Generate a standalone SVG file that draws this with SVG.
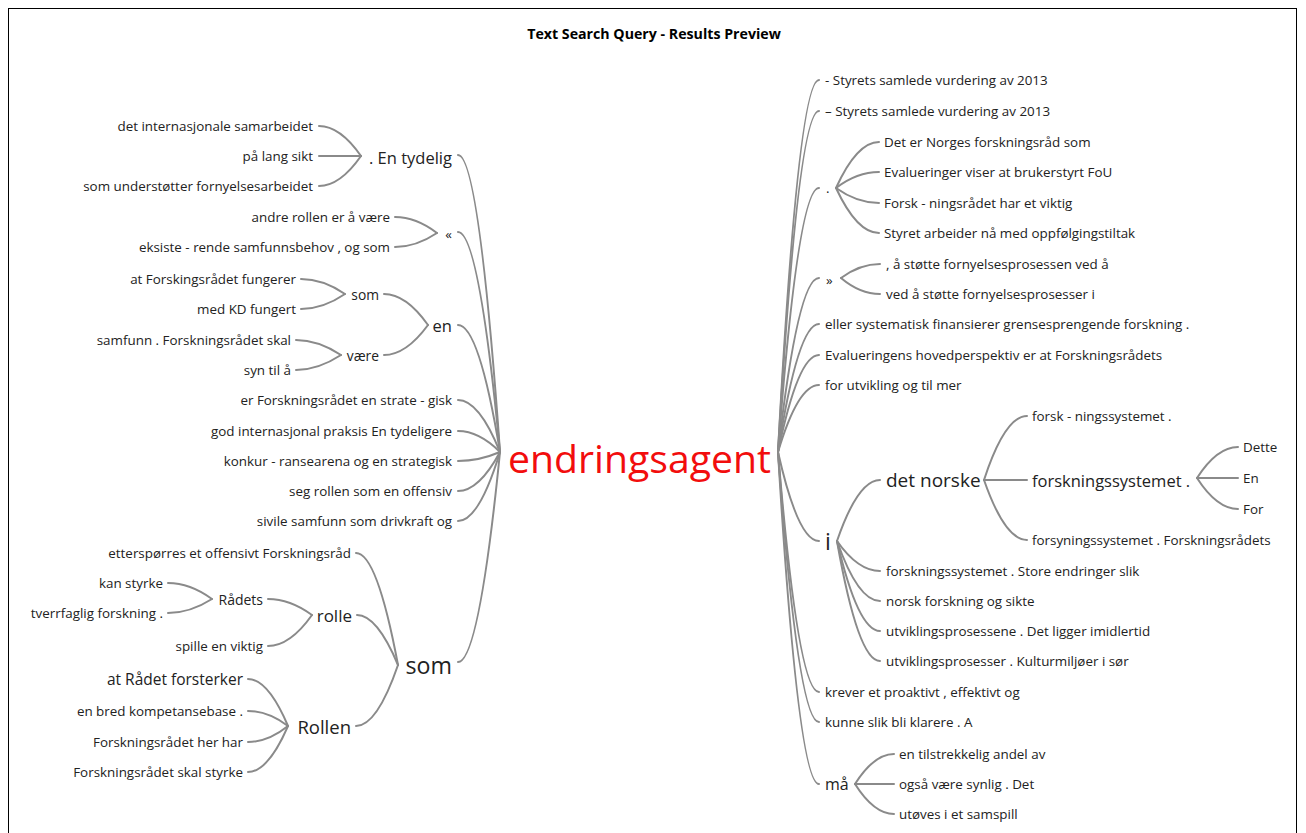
<svg xmlns="http://www.w3.org/2000/svg" width="1306" height="833" viewBox="0 0 1306 833">
<style>
text{font-family:"Open Sans","Noto Sans","DejaVu Sans",sans-serif;fill:#222;dominant-baseline:central}
.s{font-size:13.4px}
.m{font-size:16.5px}
.l{font-size:23.2px}
.e{text-anchor:end}
.t{font-size:14.2px;font-weight:bold;text-anchor:middle;fill:#000}
.c{font-size:39.2px;fill:#f20d0d}
#connectors path{fill:none;stroke:#8a8a8a;stroke-width:2;stroke-linecap:round}
</style>
<rect x="8.5" y="8.5" width="1288" height="840" fill="#fff" stroke="#000" stroke-width="1"/>
<text class="t" x="654" y="33">Text Search Query - Results Preview</text>
<g id="connectors">
<path d="M458,155 Q479,155 500,452"/>
<path d="M458,232 Q479,232 500,452"/>
<path d="M458,325 Q479,325 500,452"/>
<path d="M458,400 Q479,400 500,452"/>
<path d="M458,431 Q479,431 500,452"/>
<path d="M458,461 Q479,461 500,452"/>
<path d="M458,491 Q479,491 500,452"/>
<path d="M458,521 Q479,521 500,452"/>
<path d="M458,662 Q479,662 500,452"/>
<path d="M319,126 Q340,126 361,156"/>
<path d="M319,156 L361,156"/>
<path d="M319,186 Q340,186 361,156"/>
<path d="M395,217 Q416,217 437,233"/>
<path d="M395,247 Q416,247 437,233"/>
<path d="M384,294 Q406,294 428,325"/>
<path d="M384,355 Q406,355 428,325"/>
<path d="M301,279 Q323,279 345,294"/>
<path d="M301,309 Q323,309 345,294"/>
<path d="M296,340 Q318,340 341,355"/>
<path d="M296,370 Q318,370 341,355"/>
<path d="M356,553 Q377,553 398,665"/>
<path d="M357,615 Q377,615 398,665"/>
<path d="M356,726 Q377,726 398,665"/>
<path d="M268,599 Q290,599 312,615"/>
<path d="M268,646 Q290,646 312,615"/>
<path d="M168,583 Q190,583 212,599"/>
<path d="M168,613 Q190,613 212,599"/>
<path d="M248,679 Q268,679 288,726"/>
<path d="M248,711 Q268,711 288,726"/>
<path d="M248,742 Q268,742 288,726"/>
<path d="M248,772 Q268,772 288,726"/>
<path d="M819,80 Q798,80 778,452"/>
<path d="M819,111 Q798,111 778,452"/>
<path d="M819,188 Q798,188 778,452"/>
<path d="M819,278 Q798,278 778,452"/>
<path d="M819,324 Q798,324 778,452"/>
<path d="M819,355 Q798,355 778,452"/>
<path d="M819,385 Q798,385 778,452"/>
<path d="M819,541 Q798,541 778,452"/>
<path d="M819,692 Q798,692 778,452"/>
<path d="M819,722 Q798,722 778,452"/>
<path d="M819,784 Q798,784 778,452"/>
<path d="M879,142 Q857,142 836,188"/>
<path d="M879,172 Q857,172 836,188"/>
<path d="M879,203 Q857,203 836,188"/>
<path d="M879,233 Q857,233 836,188"/>
<path d="M880,264 Q860,264 841,278"/>
<path d="M880,294 Q860,294 841,278"/>
<path d="M880,480 Q858,480 837,541"/>
<path d="M880,571 Q858,571 837,541"/>
<path d="M880,601 Q858,601 837,541"/>
<path d="M880,631 Q858,631 837,541"/>
<path d="M880,661 Q858,661 837,541"/>
<path d="M1027,416 Q1005,416 984,480"/>
<path d="M1027,480 L984,480"/>
<path d="M1027,540 Q1005,540 984,480"/>
<path d="M1238,447 Q1217,447 1197,478"/>
<path d="M1238,478 L1197,478"/>
<path d="M1238,509 Q1217,509 1197,478"/>
<path d="M894,754 Q874,754 855,784"/>
<path d="M894,784 L855,784"/>
<path d="M894,814 Q874,814 855,784"/>
</g>
<g id="n-center"><text class="c" x="508" y="457">endringsagent</text></g>
<g id="n-en-tydelig"><text class="m e" x="452" y="157">. En tydelig</text></g>
<g id="n-l1"><text class="s e" x="313" y="126">det internasjonale samarbeidet</text></g>
<g id="n-l2"><text class="s e" x="313" y="156">på lang sikt</text></g>
<g id="n-l3"><text class="s e" x="313" y="186">som understøtter fornyelsesarbeidet</text></g>
<g id="n-guil"><text class="s e" x="452" y="234">«</text></g>
<g id="n-l4"><text class="s e" x="390" y="217">andre rollen er å være</text></g>
<g id="n-l5"><text class="s e" x="390" y="247">eksiste - rende samfunnsbehov , og som</text></g>
<g id="n-en"><text class="m e" x="452" y="325">en</text></g>
<g id="n-som-s"><text class="s e" x="379" y="294" style="font-size:13.8px">som</text></g>
<g id="n-l6"><text class="s e" x="296" y="279">at Forskingsrådet fungerer</text></g>
<g id="n-l7"><text class="s e" x="296" y="309">med KD fungert</text></g>
<g id="n-vaere"><text class="s e" x="379" y="355" style="font-size:13.8px">være</text></g>
<g id="n-l8"><text class="s e" x="291" y="340">samfunn . Forskningsrådet skal</text></g>
<g id="n-l9"><text class="s e" x="291" y="370">syn til å</text></g>
<g id="n-l10"><text class="s e" x="452" y="400">er Forskningsrådet en strate - gisk</text></g>
<g id="n-l11"><text class="s e" x="452" y="431">god internasjonal praksis En tydeligere</text></g>
<g id="n-l12"><text class="s e" x="452" y="461">konkur - ransearena og en strategisk</text></g>
<g id="n-l13"><text class="s e" x="452" y="491">seg rollen som en offensiv</text></g>
<g id="n-l14"><text class="s e" x="452" y="521">sivile samfunn som drivkraft og</text></g>
<g id="n-som"><text class="l e" x="452" y="665">som</text></g>
<g id="n-l15"><text class="s e" x="351" y="553">etterspørres et offensivt Forskningsråd</text></g>
<g id="n-rolle"><text class="m e" x="352" y="615" style="font-size:17px">rolle</text></g>
<g id="n-radets"><text class="s e" x="263" y="599" style="font-size:14px">Rådets</text></g>
<g id="n-l16"><text class="s e" x="163" y="583">kan styrke</text></g>
<g id="n-l17"><text class="s e" x="163" y="613">tverrfaglig forskning .</text></g>
<g id="n-l18"><text class="s e" x="263" y="646">spille en viktig</text></g>
<g id="n-rollen"><text class="m e" x="351" y="726" style="font-size:18.5px">Rollen</text></g>
<g id="n-l19"><text class="s e" x="243" y="679" style="font-size:15.5px">at Rådet forsterker</text></g>
<g id="n-l20"><text class="s e" x="243" y="711">en bred kompetansebase .</text></g>
<g id="n-l21"><text class="s e" x="243" y="742">Forskningsrådet her har</text></g>
<g id="n-l22"><text class="s e" x="243" y="772">Forskningsrådet skal styrke</text></g>
<g id="n-r1"><text class="s" x="825" y="80">- Styrets samlede vurdering av 2013</text></g>
<g id="n-r2"><text class="s" x="825" y="111">– Styrets samlede vurdering av 2013</text></g>
<g id="n-dot"><text class="s" x="826" y="188">.</text></g>
<g id="n-r3"><text class="s" x="884" y="142">Det er Norges forskningsråd som</text></g>
<g id="n-r4"><text class="s" x="884" y="172">Evalueringer viser at brukerstyrt FoU</text></g>
<g id="n-r5"><text class="s" x="884" y="203">Forsk - ningsrådet har et viktig</text></g>
<g id="n-r6"><text class="s" x="884" y="233">Styret arbeider nå med oppfølgingstiltak</text></g>
<g id="n-raquo"><text class="s" x="826" y="280">»</text></g>
<g id="n-r7"><text class="s" x="886" y="264">, å støtte fornyelsesprosessen ved å</text></g>
<g id="n-r8"><text class="s" x="886" y="294">ved å støtte fornyelsesprosesser i</text></g>
<g id="n-r9"><text class="s" x="825" y="324">eller systematisk finansierer grensesprengende forskning .</text></g>
<g id="n-r10"><text class="s" x="825" y="355">Evalueringens hovedperspektiv er at Forskningsrådets</text></g>
<g id="n-r11"><text class="s" x="825" y="385">for utvikling og til mer</text></g>
<g id="n-i"><text class="l" x="825" y="541">i</text></g>
<g id="n-det-norske"><text class="m" x="886" y="480" style="font-size:19px">det norske</text></g>
<g id="n-r12"><text class="s" x="1032" y="416">forsk - ningssystemet .</text></g>
<g id="n-fsys"><text class="m" x="1032" y="480">forskningssystemet .</text></g>
<g id="n-r13"><text class="s" x="1032" y="540">forsyningssystemet . Forskningsrådets</text></g>
<g id="n-dette"><text class="s" x="1243" y="447">Dette</text></g>
<g id="n-en2"><text class="s" x="1243" y="478">En</text></g>
<g id="n-for"><text class="s" x="1243" y="509">For</text></g>
<g id="n-r14"><text class="s" x="886" y="571">forskningssystemet . Store endringer slik</text></g>
<g id="n-r15"><text class="s" x="886" y="601">norsk forskning og sikte</text></g>
<g id="n-r16"><text class="s" x="886" y="631">utviklingsprosessene . Det ligger imidlertid</text></g>
<g id="n-r17"><text class="s" x="886" y="661">utviklingsprosesser . Kulturmiljøer i sør</text></g>
<g id="n-r18"><text class="s" x="825" y="692">krever et proaktivt , effektivt og</text></g>
<g id="n-r19"><text class="s" x="825" y="722">kunne slik bli klarere . A</text></g>
<g id="n-ma"><text class="m" x="825" y="784" style="font-size:16px">må</text></g>
<g id="n-r20"><text class="s" x="899" y="754">en tilstrekkelig andel av</text></g>
<g id="n-r21"><text class="s" x="899" y="784">også være synlig . Det</text></g>
<g id="n-r22"><text class="s" x="899" y="814">utøves i et samspill</text></g>
</svg>
